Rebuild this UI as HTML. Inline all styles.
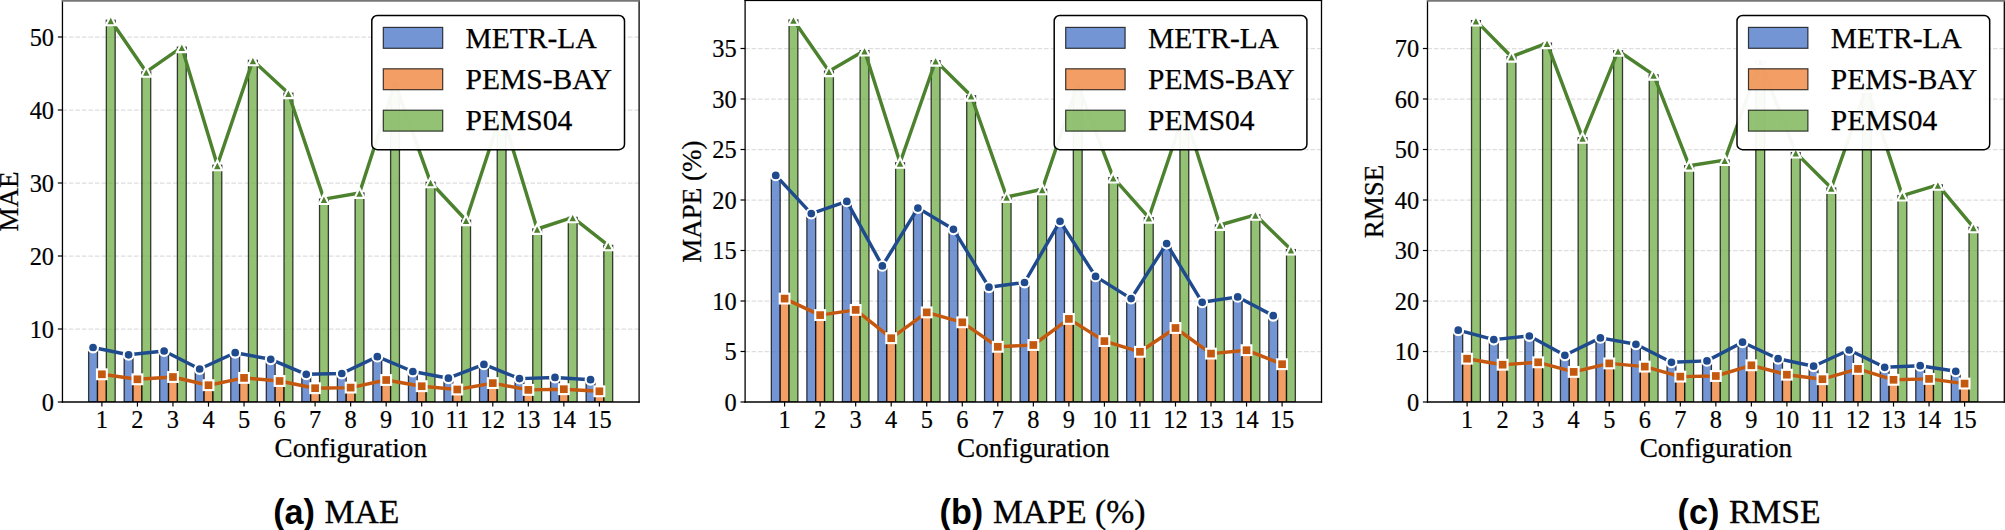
<!DOCTYPE html>
<html lang="en">
<head>
<meta charset="utf-8">
<title>MAE / MAPE / RMSE by configuration</title>
<style>
html,body{margin:0;padding:0;background:#fff;}
body{width:2005px;height:530px;overflow:hidden;}
svg{display:block;}
</style>
</head>
<body>
<svg width="2005" height="530" viewBox="0 0 2005 530">
<rect width="2005" height="530" fill="#fff"/>
<g>
<clipPath id="clip0"><rect x="62.45" y="0.4" width="576.65" height="401.6"/></clipPath>
<g stroke="#dedede" stroke-width="1.25" stroke-dasharray="4.55 1.95" fill="none">
<line x1="62.45" y1="329" x2="639.1" y2="329"/>
<line x1="62.45" y1="256" x2="639.1" y2="256"/>
<line x1="62.45" y1="183" x2="639.1" y2="183"/>
<line x1="62.45" y1="110" x2="639.1" y2="110"/>
<line x1="62.45" y1="37" x2="639.1" y2="37"/>
</g>
<g stroke="#000" stroke-width="1.3" stroke-opacity="0.75" fill-opacity="0.75" clip-path="url(#clip0)">
<rect x="88.63" y="347.5" width="8.85" height="54.5" fill="#4472c4"/>
<rect x="124.16" y="354.8" width="8.85" height="47.2" fill="#4472c4"/>
<rect x="159.69" y="351" width="8.85" height="51" fill="#4472c4"/>
<rect x="195.23" y="369" width="8.85" height="33" fill="#4472c4"/>
<rect x="230.76" y="352.7" width="8.85" height="49.3" fill="#4472c4"/>
<rect x="266.3" y="359.3" width="8.85" height="42.7" fill="#4472c4"/>
<rect x="301.83" y="374.3" width="8.85" height="27.7" fill="#4472c4"/>
<rect x="337.37" y="373.5" width="8.85" height="28.5" fill="#4472c4"/>
<rect x="372.9" y="356.65" width="8.85" height="45.35" fill="#4472c4"/>
<rect x="408.44" y="371.5" width="8.85" height="30.5" fill="#4472c4"/>
<rect x="443.97" y="378.2" width="8.85" height="23.8" fill="#4472c4"/>
<rect x="479.51" y="364.4" width="8.85" height="37.6" fill="#4472c4"/>
<rect x="515.04" y="378.6" width="8.85" height="23.4" fill="#4472c4"/>
<rect x="550.58" y="377.45" width="8.85" height="24.55" fill="#4472c4"/>
<rect x="586.12" y="379.7" width="8.85" height="22.3" fill="#4472c4"/>
<rect x="97.48" y="374.3" width="8.85" height="27.7" fill="#ed7d31"/>
<rect x="133.01" y="379.3" width="8.85" height="22.7" fill="#ed7d31"/>
<rect x="168.54" y="377" width="8.85" height="25" fill="#ed7d31"/>
<rect x="204.08" y="385.2" width="8.85" height="16.8" fill="#ed7d31"/>
<rect x="239.61" y="377.9" width="8.85" height="24.1" fill="#ed7d31"/>
<rect x="275.15" y="381" width="8.85" height="21" fill="#ed7d31"/>
<rect x="310.69" y="388.2" width="8.85" height="13.8" fill="#ed7d31"/>
<rect x="346.22" y="387.6" width="8.85" height="14.4" fill="#ed7d31"/>
<rect x="381.75" y="380" width="8.85" height="22" fill="#ed7d31"/>
<rect x="417.29" y="386.2" width="8.85" height="15.8" fill="#ed7d31"/>
<rect x="452.82" y="389.5" width="8.85" height="12.5" fill="#ed7d31"/>
<rect x="488.36" y="383.1" width="8.85" height="18.9" fill="#ed7d31"/>
<rect x="523.89" y="389.9" width="8.85" height="12.1" fill="#ed7d31"/>
<rect x="559.43" y="389.2" width="8.85" height="12.8" fill="#ed7d31"/>
<rect x="594.97" y="391.3" width="8.85" height="10.7" fill="#ed7d31"/>
<rect x="106.33" y="20.3" width="8.85" height="381.7" fill="#70ad47"/>
<rect x="141.86" y="71.9" width="8.85" height="330.1" fill="#70ad47"/>
<rect x="177.39" y="47.2" width="8.85" height="354.8" fill="#70ad47"/>
<rect x="212.93" y="165.3" width="8.85" height="236.7" fill="#70ad47"/>
<rect x="248.46" y="60.4" width="8.85" height="341.6" fill="#70ad47"/>
<rect x="284" y="93.2" width="8.85" height="308.8" fill="#70ad47"/>
<rect x="319.54" y="199.1" width="8.85" height="202.9" fill="#70ad47"/>
<rect x="355.07" y="193" width="8.85" height="209" fill="#70ad47"/>
<rect x="390.6" y="83.3" width="8.85" height="318.7" fill="#70ad47"/>
<rect x="426.14" y="182.3" width="8.85" height="219.7" fill="#70ad47"/>
<rect x="461.68" y="220.2" width="8.85" height="181.8" fill="#70ad47"/>
<rect x="497.21" y="112" width="8.85" height="290" fill="#70ad47"/>
<rect x="532.75" y="229" width="8.85" height="173" fill="#70ad47"/>
<rect x="568.28" y="217.4" width="8.85" height="184.6" fill="#70ad47"/>
<rect x="603.82" y="245.4" width="8.85" height="156.6" fill="#70ad47"/>
</g>
<polyline fill="none" stroke="#1f4b8e" stroke-width="3.45" stroke-linejoin="round" stroke-linecap="butt" points="93.05,347.5 128.59,354.8 164.12,351 199.66,369 235.19,352.7 270.72,359.3 306.26,374.3 341.79,373.5 377.33,356.65 412.86,371.5 448.4,378.2 483.93,364.4 519.47,378.6 555,377.45 590.54,379.7"/>
<g fill="#1f4b8e" stroke="#fff" stroke-width="2.1">
<circle cx="93.05" cy="347.5" r="4.9"/>
<circle cx="128.59" cy="354.8" r="4.9"/>
<circle cx="164.12" cy="351" r="4.9"/>
<circle cx="199.66" cy="369" r="4.9"/>
<circle cx="235.19" cy="352.7" r="4.9"/>
<circle cx="270.72" cy="359.3" r="4.9"/>
<circle cx="306.26" cy="374.3" r="4.9"/>
<circle cx="341.79" cy="373.5" r="4.9"/>
<circle cx="377.33" cy="356.65" r="4.9"/>
<circle cx="412.86" cy="371.5" r="4.9"/>
<circle cx="448.4" cy="378.2" r="4.9"/>
<circle cx="483.93" cy="364.4" r="4.9"/>
<circle cx="519.47" cy="378.6" r="4.9"/>
<circle cx="555" cy="377.45" r="4.9"/>
<circle cx="590.54" cy="379.7" r="4.9"/>
</g>
<polyline fill="none" stroke="#c5580f" stroke-width="3.45" stroke-linejoin="round" stroke-linecap="butt" points="101.9,374.3 137.44,379.3 172.97,377 208.5,385.2 244.04,377.9 279.57,381 315.11,388.2 350.64,387.6 386.18,380 421.71,386.2 457.25,389.5 492.78,383.1 528.32,389.9 563.85,389.2 599.39,391.3"/>
<g fill="#c5580f" stroke="#fff" stroke-width="2.1">
<rect x="97" y="369.4" width="9.8" height="9.8"/>
<rect x="132.53" y="374.4" width="9.8" height="9.8"/>
<rect x="168.07" y="372.1" width="9.8" height="9.8"/>
<rect x="203.6" y="380.3" width="9.8" height="9.8"/>
<rect x="239.14" y="373" width="9.8" height="9.8"/>
<rect x="274.68" y="376.1" width="9.8" height="9.8"/>
<rect x="310.21" y="383.3" width="9.8" height="9.8"/>
<rect x="345.75" y="382.7" width="9.8" height="9.8"/>
<rect x="381.28" y="375.1" width="9.8" height="9.8"/>
<rect x="416.81" y="381.3" width="9.8" height="9.8"/>
<rect x="452.35" y="384.6" width="9.8" height="9.8"/>
<rect x="487.88" y="378.2" width="9.8" height="9.8"/>
<rect x="523.42" y="385" width="9.8" height="9.8"/>
<rect x="558.95" y="384.3" width="9.8" height="9.8"/>
<rect x="594.49" y="386.4" width="9.8" height="9.8"/>
</g>
<polyline fill="none" stroke="#4c822e" stroke-width="3.45" stroke-linejoin="round" stroke-linecap="butt" points="110.75,20.3 146.28,71.9 181.82,47.2 217.35,165.3 252.89,60.4 288.43,93.2 323.96,199.1 359.5,193 395.03,83.3 430.56,182.3 466.1,220.2 501.63,112 537.17,229 572.7,217.4 608.24,245.4"/>
<g fill="#4c822e" stroke="#fff" stroke-width="2.1">
<path d="M110.75 15.4L105.85 25.2L115.65 25.2Z"/>
<path d="M146.28 67L141.38 76.8L151.19 76.8Z"/>
<path d="M181.82 42.3L176.92 52.1L186.72 52.1Z"/>
<path d="M217.35 160.4L212.45 170.2L222.25 170.2Z"/>
<path d="M252.89 55.5L247.99 65.3L257.79 65.3Z"/>
<path d="M288.43 88.3L283.53 98.1L293.32 98.1Z"/>
<path d="M323.96 194.2L319.06 204L328.86 204Z"/>
<path d="M359.5 188.1L354.6 197.9L364.39 197.9Z"/>
<path d="M395.03 78.4L390.13 88.2L399.93 88.2Z"/>
<path d="M430.56 177.4L425.66 187.2L435.46 187.2Z"/>
<path d="M466.1 215.3L461.2 225.1L471 225.1Z"/>
<path d="M501.63 107.1L496.74 116.9L506.53 116.9Z"/>
<path d="M537.17 224.1L532.27 233.9L542.07 233.9Z"/>
<path d="M572.7 212.5L567.8 222.3L577.6 222.3Z"/>
<path d="M608.24 240.5L603.34 250.3L613.14 250.3Z"/>
</g>
<g stroke="#000" stroke-width="1.3" fill="none" stroke-linecap="square">
<line x1="62.45" y1="402" x2="639.1" y2="402"/>
<line x1="62.45" y1="0.4" x2="62.45" y2="402"/>
<line x1="639.1" y1="0.4" x2="639.1" y2="402"/>
</g>
<rect x="61.85" y="0" width="577.85" height="1.75" fill="#777"/>
<g stroke="#000" stroke-width="1.2" fill="none">
<line x1="101.9" y1="402" x2="101.9" y2="406.6"/>
<line x1="137.44" y1="402" x2="137.44" y2="406.6"/>
<line x1="172.97" y1="402" x2="172.97" y2="406.6"/>
<line x1="208.5" y1="402" x2="208.5" y2="406.6"/>
<line x1="244.04" y1="402" x2="244.04" y2="406.6"/>
<line x1="279.57" y1="402" x2="279.57" y2="406.6"/>
<line x1="315.11" y1="402" x2="315.11" y2="406.6"/>
<line x1="350.64" y1="402" x2="350.64" y2="406.6"/>
<line x1="386.18" y1="402" x2="386.18" y2="406.6"/>
<line x1="421.71" y1="402" x2="421.71" y2="406.6"/>
<line x1="457.25" y1="402" x2="457.25" y2="406.6"/>
<line x1="492.78" y1="402" x2="492.78" y2="406.6"/>
<line x1="528.32" y1="402" x2="528.32" y2="406.6"/>
<line x1="563.85" y1="402" x2="563.85" y2="406.6"/>
<line x1="599.39" y1="402" x2="599.39" y2="406.6"/>
<line x1="57.85" y1="402" x2="62.45" y2="402"/>
<line x1="57.85" y1="329" x2="62.45" y2="329"/>
<line x1="57.85" y1="256" x2="62.45" y2="256"/>
<line x1="57.85" y1="183" x2="62.45" y2="183"/>
<line x1="57.85" y1="110" x2="62.45" y2="110"/>
<line x1="57.85" y1="37" x2="62.45" y2="37"/>
</g>
<g font-family='"Liberation Serif", "Times New Roman", serif' font-size="24.4" fill="#000" stroke="#000" stroke-width="0.2">
<g text-anchor="middle">
<text x="101.9" y="427.6">1</text>
<text x="137.44" y="427.6">2</text>
<text x="172.97" y="427.6">3</text>
<text x="208.5" y="427.6">4</text>
<text x="244.04" y="427.6">5</text>
<text x="279.57" y="427.6">6</text>
<text x="315.11" y="427.6">7</text>
<text x="350.64" y="427.6">8</text>
<text x="386.18" y="427.6">9</text>
<text x="421.71" y="427.6">10</text>
<text x="457.25" y="427.6">11</text>
<text x="492.78" y="427.6">12</text>
<text x="528.32" y="427.6">13</text>
<text x="563.85" y="427.6">14</text>
<text x="599.39" y="427.6">15</text>
</g>
<g text-anchor="end">
<text x="54.05" y="410.9">0</text>
<text x="54.05" y="337.9">10</text>
<text x="54.05" y="264.9">20</text>
<text x="54.05" y="191.9">30</text>
<text x="54.05" y="118.9">40</text>
<text x="54.05" y="45.9">50</text>
</g>
</g>
<text x="350.78" y="456.8" text-anchor="middle" font-family='"Liberation Serif", "Times New Roman", serif' font-size="27.2" fill="#000" stroke="#000" stroke-width="0.25">Configuration</text>
<text transform="translate(17.95 201.6) rotate(-90)" text-anchor="middle" font-family='"Liberation Serif", "Times New Roman", serif' font-size="27.0" fill="#000" stroke="#000" stroke-width="0.25">MAE</text>
<rect x="371.8" y="15.5" width="252.7" height="134.2" rx="5.5" ry="5.5" fill="#fff" fill-opacity="0.95" stroke="#000" stroke-width="1.5"/>
<rect x="383.3" y="27.4" width="59.4" height="20.9" fill="#4472c4" fill-opacity="0.75" stroke="#000" stroke-opacity="0.75" stroke-width="1.2"/>
<text x="465.6" y="47.5" font-family='"Liberation Serif", "Times New Roman", serif' font-size="29.5" fill="#000" stroke="#000" stroke-width="0.25">METR-LA</text>
<rect x="383.3" y="68.8" width="59.4" height="20.9" fill="#ed7d31" fill-opacity="0.75" stroke="#000" stroke-opacity="0.75" stroke-width="1.2"/>
<text x="465.6" y="88.9" font-family='"Liberation Serif", "Times New Roman", serif' font-size="29.5" fill="#000" stroke="#000" stroke-width="0.25">PEMS-BAY</text>
<rect x="383.3" y="110.2" width="59.4" height="20.9" fill="#70ad47" fill-opacity="0.75" stroke="#000" stroke-opacity="0.75" stroke-width="1.2"/>
<text x="465.6" y="130.3" font-family='"Liberation Serif", "Times New Roman", serif' font-size="29.5" fill="#000" stroke="#000" stroke-width="0.25">PEMS04</text>
<text x="273.2" y="524.1" font-family='"Liberation Sans", Arial, sans-serif' font-weight="bold" font-size="34.2" fill="#000">(a)</text>
<text x="324.5" y="523.2" font-family='"Liberation Serif", "Times New Roman", serif' font-size="33.7" fill="#000" stroke="#000" stroke-width="0.35">MAE</text>
</g>
<g>
<clipPath id="clip1"><rect x="745.1" y="0.4" width="576.4" height="401.6"/></clipPath>
<g stroke="#dedede" stroke-width="1.25" stroke-dasharray="4.55 1.95" fill="none">
<line x1="745.1" y1="351.5" x2="1321.5" y2="351.5"/>
<line x1="745.1" y1="301" x2="1321.5" y2="301"/>
<line x1="745.1" y1="250.5" x2="1321.5" y2="250.5"/>
<line x1="745.1" y1="200" x2="1321.5" y2="200"/>
<line x1="745.1" y1="149.5" x2="1321.5" y2="149.5"/>
<line x1="745.1" y1="99" x2="1321.5" y2="99"/>
<line x1="745.1" y1="48.5" x2="1321.5" y2="48.5"/>
</g>
<g stroke="#000" stroke-width="1.3" stroke-opacity="0.75" fill-opacity="0.75" clip-path="url(#clip1)">
<rect x="771.33" y="175.4" width="8.85" height="226.6" fill="#4472c4"/>
<rect x="806.86" y="213.6" width="8.85" height="188.4" fill="#4472c4"/>
<rect x="842.4" y="201.4" width="8.85" height="200.6" fill="#4472c4"/>
<rect x="877.93" y="265.9" width="8.85" height="136.1" fill="#4472c4"/>
<rect x="913.47" y="208.1" width="8.85" height="193.9" fill="#4472c4"/>
<rect x="949" y="229.3" width="8.85" height="172.7" fill="#4472c4"/>
<rect x="984.53" y="287.2" width="8.85" height="114.8" fill="#4472c4"/>
<rect x="1020.07" y="282.5" width="8.85" height="119.5" fill="#4472c4"/>
<rect x="1055.61" y="221.3" width="8.85" height="180.7" fill="#4472c4"/>
<rect x="1091.14" y="276.4" width="8.85" height="125.6" fill="#4472c4"/>
<rect x="1126.68" y="298.6" width="8.85" height="103.4" fill="#4472c4"/>
<rect x="1162.21" y="243.6" width="8.85" height="158.4" fill="#4472c4"/>
<rect x="1197.75" y="302.3" width="8.85" height="99.7" fill="#4472c4"/>
<rect x="1233.28" y="296.9" width="8.85" height="105.1" fill="#4472c4"/>
<rect x="1268.82" y="315.7" width="8.85" height="86.3" fill="#4472c4"/>
<rect x="780.18" y="298.6" width="8.85" height="103.4" fill="#ed7d31"/>
<rect x="815.71" y="315.1" width="8.85" height="86.9" fill="#ed7d31"/>
<rect x="851.25" y="309.9" width="8.85" height="92.1" fill="#ed7d31"/>
<rect x="886.78" y="338.2" width="8.85" height="63.8" fill="#ed7d31"/>
<rect x="922.32" y="312.4" width="8.85" height="89.6" fill="#ed7d31"/>
<rect x="957.85" y="322.3" width="8.85" height="79.7" fill="#ed7d31"/>
<rect x="993.38" y="346.8" width="8.85" height="55.2" fill="#ed7d31"/>
<rect x="1028.92" y="345" width="8.85" height="57" fill="#ed7d31"/>
<rect x="1064.46" y="318.9" width="8.85" height="83.1" fill="#ed7d31"/>
<rect x="1099.99" y="341.1" width="8.85" height="60.9" fill="#ed7d31"/>
<rect x="1135.53" y="351.8" width="8.85" height="50.2" fill="#ed7d31"/>
<rect x="1171.06" y="328" width="8.85" height="74" fill="#ed7d31"/>
<rect x="1206.6" y="353.6" width="8.85" height="48.4" fill="#ed7d31"/>
<rect x="1242.13" y="350.2" width="8.85" height="51.8" fill="#ed7d31"/>
<rect x="1277.66" y="364.2" width="8.85" height="37.8" fill="#ed7d31"/>
<rect x="789.03" y="20" width="8.85" height="382" fill="#70ad47"/>
<rect x="824.56" y="71.2" width="8.85" height="330.8" fill="#70ad47"/>
<rect x="860.1" y="50.6" width="8.85" height="351.4" fill="#70ad47"/>
<rect x="895.63" y="162.8" width="8.85" height="239.2" fill="#70ad47"/>
<rect x="931.17" y="60.7" width="8.85" height="341.3" fill="#70ad47"/>
<rect x="966.7" y="95.7" width="8.85" height="306.3" fill="#70ad47"/>
<rect x="1002.24" y="197" width="8.85" height="205" fill="#70ad47"/>
<rect x="1037.77" y="189.3" width="8.85" height="212.7" fill="#70ad47"/>
<rect x="1073.31" y="84.6" width="8.85" height="317.4" fill="#70ad47"/>
<rect x="1108.84" y="177.6" width="8.85" height="224.4" fill="#70ad47"/>
<rect x="1144.38" y="217.7" width="8.85" height="184.3" fill="#70ad47"/>
<rect x="1179.91" y="112.2" width="8.85" height="289.8" fill="#70ad47"/>
<rect x="1215.44" y="225" width="8.85" height="177" fill="#70ad47"/>
<rect x="1250.98" y="214.8" width="8.85" height="187.2" fill="#70ad47"/>
<rect x="1286.51" y="249.6" width="8.85" height="152.4" fill="#70ad47"/>
</g>
<polyline fill="none" stroke="#1f4b8e" stroke-width="3.45" stroke-linejoin="round" stroke-linecap="butt" points="775.75,175.4 811.28,213.6 846.82,201.4 882.36,265.9 917.89,208.1 953.42,229.3 988.96,287.2 1024.5,282.5 1060.03,221.3 1095.57,276.4 1131.1,298.6 1166.64,243.6 1202.17,302.3 1237.7,296.9 1273.24,315.7"/>
<g fill="#1f4b8e" stroke="#fff" stroke-width="2.1">
<circle cx="775.75" cy="175.4" r="4.9"/>
<circle cx="811.28" cy="213.6" r="4.9"/>
<circle cx="846.82" cy="201.4" r="4.9"/>
<circle cx="882.36" cy="265.9" r="4.9"/>
<circle cx="917.89" cy="208.1" r="4.9"/>
<circle cx="953.42" cy="229.3" r="4.9"/>
<circle cx="988.96" cy="287.2" r="4.9"/>
<circle cx="1024.5" cy="282.5" r="4.9"/>
<circle cx="1060.03" cy="221.3" r="4.9"/>
<circle cx="1095.57" cy="276.4" r="4.9"/>
<circle cx="1131.1" cy="298.6" r="4.9"/>
<circle cx="1166.64" cy="243.6" r="4.9"/>
<circle cx="1202.17" cy="302.3" r="4.9"/>
<circle cx="1237.7" cy="296.9" r="4.9"/>
<circle cx="1273.24" cy="315.7" r="4.9"/>
</g>
<polyline fill="none" stroke="#c5580f" stroke-width="3.45" stroke-linejoin="round" stroke-linecap="butt" points="784.6,298.6 820.13,315.1 855.67,309.9 891.21,338.2 926.74,312.4 962.27,322.3 997.81,346.8 1033.35,345 1068.88,318.9 1104.41,341.1 1139.95,351.8 1175.49,328 1211.02,353.6 1246.55,350.2 1282.09,364.2"/>
<g fill="#c5580f" stroke="#fff" stroke-width="2.1">
<rect x="779.7" y="293.7" width="9.8" height="9.8"/>
<rect x="815.24" y="310.2" width="9.8" height="9.8"/>
<rect x="850.77" y="305" width="9.8" height="9.8"/>
<rect x="886.31" y="333.3" width="9.8" height="9.8"/>
<rect x="921.84" y="307.5" width="9.8" height="9.8"/>
<rect x="957.38" y="317.4" width="9.8" height="9.8"/>
<rect x="992.91" y="341.9" width="9.8" height="9.8"/>
<rect x="1028.44" y="340.1" width="9.8" height="9.8"/>
<rect x="1063.98" y="314" width="9.8" height="9.8"/>
<rect x="1099.51" y="336.2" width="9.8" height="9.8"/>
<rect x="1135.05" y="346.9" width="9.8" height="9.8"/>
<rect x="1170.59" y="323.1" width="9.8" height="9.8"/>
<rect x="1206.12" y="348.7" width="9.8" height="9.8"/>
<rect x="1241.65" y="345.3" width="9.8" height="9.8"/>
<rect x="1277.19" y="359.3" width="9.8" height="9.8"/>
</g>
<polyline fill="none" stroke="#4c822e" stroke-width="3.45" stroke-linejoin="round" stroke-linecap="butt" points="793.45,20 828.99,71.2 864.52,50.6 900.06,162.8 935.59,60.7 971.12,95.7 1006.66,197 1042.19,189.3 1077.73,84.6 1113.26,177.6 1148.8,217.7 1184.34,112.2 1219.87,225 1255.4,214.8 1290.94,249.6"/>
<g fill="#4c822e" stroke="#fff" stroke-width="2.1">
<path d="M793.45 15.1L788.55 24.9L798.35 24.9Z"/>
<path d="M828.99 66.3L824.09 76.1L833.88 76.1Z"/>
<path d="M864.52 45.7L859.62 55.5L869.42 55.5Z"/>
<path d="M900.06 157.9L895.16 167.7L904.96 167.7Z"/>
<path d="M935.59 55.8L930.69 65.6L940.49 65.6Z"/>
<path d="M971.12 90.8L966.23 100.6L976.02 100.6Z"/>
<path d="M1006.66 192.1L1001.76 201.9L1011.56 201.9Z"/>
<path d="M1042.19 184.4L1037.29 194.2L1047.1 194.2Z"/>
<path d="M1077.73 79.7L1072.83 89.5L1082.63 89.5Z"/>
<path d="M1113.26 172.7L1108.36 182.5L1118.16 182.5Z"/>
<path d="M1148.8 212.8L1143.9 222.6L1153.7 222.6Z"/>
<path d="M1184.34 107.3L1179.43 117.1L1189.24 117.1Z"/>
<path d="M1219.87 220.1L1214.97 229.9L1224.77 229.9Z"/>
<path d="M1255.4 209.9L1250.5 219.7L1260.3 219.7Z"/>
<path d="M1290.94 244.7L1286.04 254.5L1295.84 254.5Z"/>
</g>
<g stroke="#000" stroke-width="1.3" fill="none" stroke-linecap="square">
<line x1="745.1" y1="402" x2="1321.5" y2="402"/>
<line x1="745.1" y1="0.4" x2="745.1" y2="402"/>
<line x1="1321.5" y1="0.4" x2="1321.5" y2="402"/>
</g>
<rect x="744.5" y="0" width="577.6" height="1.1" fill="#000"/>
<g stroke="#000" stroke-width="1.2" fill="none">
<line x1="784.6" y1="402" x2="784.6" y2="406.6"/>
<line x1="820.13" y1="402" x2="820.13" y2="406.6"/>
<line x1="855.67" y1="402" x2="855.67" y2="406.6"/>
<line x1="891.21" y1="402" x2="891.21" y2="406.6"/>
<line x1="926.74" y1="402" x2="926.74" y2="406.6"/>
<line x1="962.27" y1="402" x2="962.27" y2="406.6"/>
<line x1="997.81" y1="402" x2="997.81" y2="406.6"/>
<line x1="1033.35" y1="402" x2="1033.35" y2="406.6"/>
<line x1="1068.88" y1="402" x2="1068.88" y2="406.6"/>
<line x1="1104.41" y1="402" x2="1104.41" y2="406.6"/>
<line x1="1139.95" y1="402" x2="1139.95" y2="406.6"/>
<line x1="1175.49" y1="402" x2="1175.49" y2="406.6"/>
<line x1="1211.02" y1="402" x2="1211.02" y2="406.6"/>
<line x1="1246.55" y1="402" x2="1246.55" y2="406.6"/>
<line x1="1282.09" y1="402" x2="1282.09" y2="406.6"/>
<line x1="740.5" y1="402" x2="745.1" y2="402"/>
<line x1="740.5" y1="351.5" x2="745.1" y2="351.5"/>
<line x1="740.5" y1="301" x2="745.1" y2="301"/>
<line x1="740.5" y1="250.5" x2="745.1" y2="250.5"/>
<line x1="740.5" y1="200" x2="745.1" y2="200"/>
<line x1="740.5" y1="149.5" x2="745.1" y2="149.5"/>
<line x1="740.5" y1="99" x2="745.1" y2="99"/>
<line x1="740.5" y1="48.5" x2="745.1" y2="48.5"/>
</g>
<g font-family='"Liberation Serif", "Times New Roman", serif' font-size="24.4" fill="#000" stroke="#000" stroke-width="0.2">
<g text-anchor="middle">
<text x="784.6" y="427.6">1</text>
<text x="820.13" y="427.6">2</text>
<text x="855.67" y="427.6">3</text>
<text x="891.21" y="427.6">4</text>
<text x="926.74" y="427.6">5</text>
<text x="962.27" y="427.6">6</text>
<text x="997.81" y="427.6">7</text>
<text x="1033.35" y="427.6">8</text>
<text x="1068.88" y="427.6">9</text>
<text x="1104.41" y="427.6">10</text>
<text x="1139.95" y="427.6">11</text>
<text x="1175.49" y="427.6">12</text>
<text x="1211.02" y="427.6">13</text>
<text x="1246.55" y="427.6">14</text>
<text x="1282.09" y="427.6">15</text>
</g>
<g text-anchor="end">
<text x="736.7" y="410.9">0</text>
<text x="736.7" y="360.4">5</text>
<text x="736.7" y="309.9">10</text>
<text x="736.7" y="259.4">15</text>
<text x="736.7" y="208.9">20</text>
<text x="736.7" y="158.4">25</text>
<text x="736.7" y="107.9">30</text>
<text x="736.7" y="57.4">35</text>
</g>
</g>
<text x="1033.3" y="456.8" text-anchor="middle" font-family='"Liberation Serif", "Times New Roman", serif' font-size="27.2" fill="#000" stroke="#000" stroke-width="0.25">Configuration</text>
<text transform="translate(700.6 201.6) rotate(-90)" text-anchor="middle" font-family='"Liberation Serif", "Times New Roman", serif' font-size="27.0" fill="#000" stroke="#000" stroke-width="0.25">MAPE (%)</text>
<rect x="1054.2" y="15.5" width="252.7" height="134.2" rx="5.5" ry="5.5" fill="#fff" fill-opacity="0.95" stroke="#000" stroke-width="1.5"/>
<rect x="1065.7" y="27.4" width="59.4" height="20.9" fill="#4472c4" fill-opacity="0.75" stroke="#000" stroke-opacity="0.75" stroke-width="1.2"/>
<text x="1148" y="47.5" font-family='"Liberation Serif", "Times New Roman", serif' font-size="29.5" fill="#000" stroke="#000" stroke-width="0.25">METR-LA</text>
<rect x="1065.7" y="68.8" width="59.4" height="20.9" fill="#ed7d31" fill-opacity="0.75" stroke="#000" stroke-opacity="0.75" stroke-width="1.2"/>
<text x="1148" y="88.9" font-family='"Liberation Serif", "Times New Roman", serif' font-size="29.5" fill="#000" stroke="#000" stroke-width="0.25">PEMS-BAY</text>
<rect x="1065.7" y="110.2" width="59.4" height="20.9" fill="#70ad47" fill-opacity="0.75" stroke="#000" stroke-opacity="0.75" stroke-width="1.2"/>
<text x="1148" y="130.3" font-family='"Liberation Serif", "Times New Roman", serif' font-size="29.5" fill="#000" stroke="#000" stroke-width="0.25">PEMS04</text>
<text x="939.6" y="524.1" font-family='"Liberation Sans", Arial, sans-serif' font-weight="bold" font-size="34.2" fill="#000">(b)</text>
<text x="992.9" y="523.2" font-family='"Liberation Serif", "Times New Roman", serif' font-size="33.7" fill="#000" stroke="#000" stroke-width="0.35">MAPE (%)</text>
</g>
<g>
<clipPath id="clip2"><rect x="1427.5" y="0.4" width="576.8" height="401.6"/></clipPath>
<g stroke="#dedede" stroke-width="1.25" stroke-dasharray="4.55 1.95" fill="none">
<line x1="1427.5" y1="351.5" x2="2004.3" y2="351.5"/>
<line x1="1427.5" y1="301" x2="2004.3" y2="301"/>
<line x1="1427.5" y1="250.5" x2="2004.3" y2="250.5"/>
<line x1="1427.5" y1="200" x2="2004.3" y2="200"/>
<line x1="1427.5" y1="149.5" x2="2004.3" y2="149.5"/>
<line x1="1427.5" y1="99" x2="2004.3" y2="99"/>
<line x1="1427.5" y1="48.5" x2="2004.3" y2="48.5"/>
</g>
<g stroke="#000" stroke-width="1.3" stroke-opacity="0.75" fill-opacity="0.75" clip-path="url(#clip2)">
<rect x="1453.83" y="330.2" width="8.85" height="71.8" fill="#4472c4"/>
<rect x="1489.36" y="339.6" width="8.85" height="62.4" fill="#4472c4"/>
<rect x="1524.89" y="336" width="8.85" height="66" fill="#4472c4"/>
<rect x="1560.43" y="355.3" width="8.85" height="46.7" fill="#4472c4"/>
<rect x="1595.96" y="337.9" width="8.85" height="64.1" fill="#4472c4"/>
<rect x="1631.5" y="344.3" width="8.85" height="57.7" fill="#4472c4"/>
<rect x="1667.04" y="362.3" width="8.85" height="39.7" fill="#4472c4"/>
<rect x="1702.57" y="360.9" width="8.85" height="41.1" fill="#4472c4"/>
<rect x="1738.11" y="342.2" width="8.85" height="59.8" fill="#4472c4"/>
<rect x="1773.64" y="358.7" width="8.85" height="43.3" fill="#4472c4"/>
<rect x="1809.17" y="366.2" width="8.85" height="35.8" fill="#4472c4"/>
<rect x="1844.71" y="350" width="8.85" height="52" fill="#4472c4"/>
<rect x="1880.25" y="367.3" width="8.85" height="34.7" fill="#4472c4"/>
<rect x="1915.78" y="365.7" width="8.85" height="36.3" fill="#4472c4"/>
<rect x="1951.32" y="371.3" width="8.85" height="30.7" fill="#4472c4"/>
<rect x="1462.67" y="358.7" width="8.85" height="43.3" fill="#ed7d31"/>
<rect x="1498.21" y="364.7" width="8.85" height="37.3" fill="#ed7d31"/>
<rect x="1533.74" y="362.3" width="8.85" height="39.7" fill="#ed7d31"/>
<rect x="1569.28" y="371.9" width="8.85" height="30.1" fill="#ed7d31"/>
<rect x="1604.81" y="363.4" width="8.85" height="38.6" fill="#ed7d31"/>
<rect x="1640.35" y="366.6" width="8.85" height="35.4" fill="#ed7d31"/>
<rect x="1675.88" y="376.6" width="8.85" height="25.4" fill="#ed7d31"/>
<rect x="1711.42" y="376" width="8.85" height="26" fill="#ed7d31"/>
<rect x="1746.95" y="365.3" width="8.85" height="36.7" fill="#ed7d31"/>
<rect x="1782.49" y="374.7" width="8.85" height="27.3" fill="#ed7d31"/>
<rect x="1818.02" y="379.2" width="8.85" height="22.8" fill="#ed7d31"/>
<rect x="1853.56" y="368.9" width="8.85" height="33.1" fill="#ed7d31"/>
<rect x="1889.1" y="379.8" width="8.85" height="22.2" fill="#ed7d31"/>
<rect x="1924.63" y="378.9" width="8.85" height="23.1" fill="#ed7d31"/>
<rect x="1960.16" y="383.6" width="8.85" height="18.4" fill="#ed7d31"/>
<rect x="1471.52" y="20.6" width="8.85" height="381.4" fill="#70ad47"/>
<rect x="1507.06" y="56.7" width="8.85" height="345.3" fill="#70ad47"/>
<rect x="1542.59" y="43.2" width="8.85" height="358.8" fill="#70ad47"/>
<rect x="1578.13" y="137.8" width="8.85" height="264.2" fill="#70ad47"/>
<rect x="1613.66" y="50.8" width="8.85" height="351.2" fill="#70ad47"/>
<rect x="1649.2" y="74.9" width="8.85" height="327.1" fill="#70ad47"/>
<rect x="1684.73" y="165.7" width="8.85" height="236.3" fill="#70ad47"/>
<rect x="1720.27" y="160.1" width="8.85" height="241.9" fill="#70ad47"/>
<rect x="1755.8" y="61.5" width="8.85" height="340.5" fill="#70ad47"/>
<rect x="1791.34" y="152.6" width="8.85" height="249.4" fill="#70ad47"/>
<rect x="1826.87" y="188" width="8.85" height="214" fill="#70ad47"/>
<rect x="1862.41" y="87" width="8.85" height="315" fill="#70ad47"/>
<rect x="1897.94" y="195.6" width="8.85" height="206.4" fill="#70ad47"/>
<rect x="1933.48" y="184.9" width="8.85" height="217.1" fill="#70ad47"/>
<rect x="1969.01" y="227.3" width="8.85" height="174.7" fill="#70ad47"/>
</g>
<polyline fill="none" stroke="#1f4b8e" stroke-width="3.45" stroke-linejoin="round" stroke-linecap="butt" points="1458.25,330.2 1493.79,339.6 1529.32,336 1564.86,355.3 1600.39,337.9 1635.92,344.3 1671.46,362.3 1706.99,360.9 1742.53,342.2 1778.07,358.7 1813.6,366.2 1849.13,350 1884.67,367.3 1920.2,365.7 1955.74,371.3"/>
<g fill="#1f4b8e" stroke="#fff" stroke-width="2.1">
<circle cx="1458.25" cy="330.2" r="4.9"/>
<circle cx="1493.79" cy="339.6" r="4.9"/>
<circle cx="1529.32" cy="336" r="4.9"/>
<circle cx="1564.86" cy="355.3" r="4.9"/>
<circle cx="1600.39" cy="337.9" r="4.9"/>
<circle cx="1635.92" cy="344.3" r="4.9"/>
<circle cx="1671.46" cy="362.3" r="4.9"/>
<circle cx="1706.99" cy="360.9" r="4.9"/>
<circle cx="1742.53" cy="342.2" r="4.9"/>
<circle cx="1778.07" cy="358.7" r="4.9"/>
<circle cx="1813.6" cy="366.2" r="4.9"/>
<circle cx="1849.13" cy="350" r="4.9"/>
<circle cx="1884.67" cy="367.3" r="4.9"/>
<circle cx="1920.2" cy="365.7" r="4.9"/>
<circle cx="1955.74" cy="371.3" r="4.9"/>
</g>
<polyline fill="none" stroke="#c5580f" stroke-width="3.45" stroke-linejoin="round" stroke-linecap="butt" points="1467.1,358.7 1502.63,364.7 1538.17,362.3 1573.7,371.9 1609.24,363.4 1644.77,366.6 1680.31,376.6 1715.84,376 1751.38,365.3 1786.91,374.7 1822.45,379.2 1857.98,368.9 1893.52,379.8 1929.05,378.9 1964.59,383.6"/>
<g fill="#c5580f" stroke="#fff" stroke-width="2.1">
<rect x="1462.2" y="353.8" width="9.8" height="9.8"/>
<rect x="1497.73" y="359.8" width="9.8" height="9.8"/>
<rect x="1533.27" y="357.4" width="9.8" height="9.8"/>
<rect x="1568.8" y="367" width="9.8" height="9.8"/>
<rect x="1604.34" y="358.5" width="9.8" height="9.8"/>
<rect x="1639.87" y="361.7" width="9.8" height="9.8"/>
<rect x="1675.41" y="371.7" width="9.8" height="9.8"/>
<rect x="1710.94" y="371.1" width="9.8" height="9.8"/>
<rect x="1746.48" y="360.4" width="9.8" height="9.8"/>
<rect x="1782.01" y="369.8" width="9.8" height="9.8"/>
<rect x="1817.55" y="374.3" width="9.8" height="9.8"/>
<rect x="1853.08" y="364" width="9.8" height="9.8"/>
<rect x="1888.62" y="374.9" width="9.8" height="9.8"/>
<rect x="1924.15" y="374" width="9.8" height="9.8"/>
<rect x="1959.69" y="378.7" width="9.8" height="9.8"/>
</g>
<polyline fill="none" stroke="#4c822e" stroke-width="3.45" stroke-linejoin="round" stroke-linecap="butt" points="1475.95,20.6 1511.48,56.7 1547.02,43.2 1582.55,137.8 1618.09,50.8 1653.62,74.9 1689.16,165.7 1724.69,160.1 1760.23,61.5 1795.76,152.6 1831.3,188 1866.83,87 1902.37,195.6 1937.9,184.9 1973.44,227.3"/>
<g fill="#4c822e" stroke="#fff" stroke-width="2.1">
<path d="M1475.95 15.7L1471.05 25.5L1480.85 25.5Z"/>
<path d="M1511.48 51.8L1506.58 61.6L1516.38 61.6Z"/>
<path d="M1547.02 38.3L1542.12 48.1L1551.92 48.1Z"/>
<path d="M1582.55 132.9L1577.65 142.7L1587.45 142.7Z"/>
<path d="M1618.09 45.9L1613.19 55.7L1622.99 55.7Z"/>
<path d="M1653.62 70L1648.72 79.8L1658.52 79.8Z"/>
<path d="M1689.16 160.8L1684.26 170.6L1694.06 170.6Z"/>
<path d="M1724.69 155.2L1719.79 165L1729.59 165Z"/>
<path d="M1760.23 56.6L1755.33 66.4L1765.13 66.4Z"/>
<path d="M1795.76 147.7L1790.86 157.5L1800.66 157.5Z"/>
<path d="M1831.3 183.1L1826.4 192.9L1836.2 192.9Z"/>
<path d="M1866.83 82.1L1861.93 91.9L1871.73 91.9Z"/>
<path d="M1902.37 190.7L1897.47 200.5L1907.27 200.5Z"/>
<path d="M1937.9 180L1933 189.8L1942.8 189.8Z"/>
<path d="M1973.44 222.4L1968.54 232.2L1978.34 232.2Z"/>
</g>
<g stroke="#000" stroke-width="1.3" fill="none" stroke-linecap="square">
<line x1="1427.5" y1="402" x2="2004.3" y2="402"/>
<line x1="1427.5" y1="0.4" x2="1427.5" y2="402"/>
<line x1="2004.3" y1="0.4" x2="2004.3" y2="402"/>
</g>
<rect x="1426.9" y="0" width="578" height="1.75" fill="#777"/>
<g stroke="#000" stroke-width="1.2" fill="none">
<line x1="1467.1" y1="402" x2="1467.1" y2="406.6"/>
<line x1="1502.63" y1="402" x2="1502.63" y2="406.6"/>
<line x1="1538.17" y1="402" x2="1538.17" y2="406.6"/>
<line x1="1573.7" y1="402" x2="1573.7" y2="406.6"/>
<line x1="1609.24" y1="402" x2="1609.24" y2="406.6"/>
<line x1="1644.77" y1="402" x2="1644.77" y2="406.6"/>
<line x1="1680.31" y1="402" x2="1680.31" y2="406.6"/>
<line x1="1715.84" y1="402" x2="1715.84" y2="406.6"/>
<line x1="1751.38" y1="402" x2="1751.38" y2="406.6"/>
<line x1="1786.91" y1="402" x2="1786.91" y2="406.6"/>
<line x1="1822.45" y1="402" x2="1822.45" y2="406.6"/>
<line x1="1857.98" y1="402" x2="1857.98" y2="406.6"/>
<line x1="1893.52" y1="402" x2="1893.52" y2="406.6"/>
<line x1="1929.05" y1="402" x2="1929.05" y2="406.6"/>
<line x1="1964.59" y1="402" x2="1964.59" y2="406.6"/>
<line x1="1422.9" y1="402" x2="1427.5" y2="402"/>
<line x1="1422.9" y1="351.5" x2="1427.5" y2="351.5"/>
<line x1="1422.9" y1="301" x2="1427.5" y2="301"/>
<line x1="1422.9" y1="250.5" x2="1427.5" y2="250.5"/>
<line x1="1422.9" y1="200" x2="1427.5" y2="200"/>
<line x1="1422.9" y1="149.5" x2="1427.5" y2="149.5"/>
<line x1="1422.9" y1="99" x2="1427.5" y2="99"/>
<line x1="1422.9" y1="48.5" x2="1427.5" y2="48.5"/>
</g>
<g font-family='"Liberation Serif", "Times New Roman", serif' font-size="24.4" fill="#000" stroke="#000" stroke-width="0.2">
<g text-anchor="middle">
<text x="1467.1" y="427.6">1</text>
<text x="1502.63" y="427.6">2</text>
<text x="1538.17" y="427.6">3</text>
<text x="1573.7" y="427.6">4</text>
<text x="1609.24" y="427.6">5</text>
<text x="1644.77" y="427.6">6</text>
<text x="1680.31" y="427.6">7</text>
<text x="1715.84" y="427.6">8</text>
<text x="1751.38" y="427.6">9</text>
<text x="1786.91" y="427.6">10</text>
<text x="1822.45" y="427.6">11</text>
<text x="1857.98" y="427.6">12</text>
<text x="1893.52" y="427.6">13</text>
<text x="1929.05" y="427.6">14</text>
<text x="1964.59" y="427.6">15</text>
</g>
<g text-anchor="end">
<text x="1419.1" y="410.9">0</text>
<text x="1419.1" y="360.4">10</text>
<text x="1419.1" y="309.9">20</text>
<text x="1419.1" y="259.4">30</text>
<text x="1419.1" y="208.9">40</text>
<text x="1419.1" y="158.4">50</text>
<text x="1419.1" y="107.9">60</text>
<text x="1419.1" y="57.4">70</text>
</g>
</g>
<text x="1715.9" y="456.8" text-anchor="middle" font-family='"Liberation Serif", "Times New Roman", serif' font-size="27.2" fill="#000" stroke="#000" stroke-width="0.25">Configuration</text>
<text transform="translate(1383 201.6) rotate(-90)" text-anchor="middle" font-family='"Liberation Serif", "Times New Roman", serif' font-size="27.0" fill="#000" stroke="#000" stroke-width="0.25">RMSE</text>
<rect x="1737" y="15.5" width="252.7" height="134.2" rx="5.5" ry="5.5" fill="#fff" fill-opacity="0.95" stroke="#000" stroke-width="1.5"/>
<rect x="1748.5" y="27.4" width="59.4" height="20.9" fill="#4472c4" fill-opacity="0.75" stroke="#000" stroke-opacity="0.75" stroke-width="1.2"/>
<text x="1830.8" y="47.5" font-family='"Liberation Serif", "Times New Roman", serif' font-size="29.5" fill="#000" stroke="#000" stroke-width="0.25">METR-LA</text>
<rect x="1748.5" y="68.8" width="59.4" height="20.9" fill="#ed7d31" fill-opacity="0.75" stroke="#000" stroke-opacity="0.75" stroke-width="1.2"/>
<text x="1830.8" y="88.9" font-family='"Liberation Serif", "Times New Roman", serif' font-size="29.5" fill="#000" stroke="#000" stroke-width="0.25">PEMS-BAY</text>
<rect x="1748.5" y="110.2" width="59.4" height="20.9" fill="#70ad47" fill-opacity="0.75" stroke="#000" stroke-opacity="0.75" stroke-width="1.2"/>
<text x="1830.8" y="130.3" font-family='"Liberation Serif", "Times New Roman", serif' font-size="29.5" fill="#000" stroke="#000" stroke-width="0.25">PEMS04</text>
<text x="1677.5" y="524.1" font-family='"Liberation Sans", Arial, sans-serif' font-weight="bold" font-size="34.2" fill="#000">(c)</text>
<text x="1728.9" y="523.2" font-family='"Liberation Serif", "Times New Roman", serif' font-size="33.7" fill="#000" stroke="#000" stroke-width="0.35">RMSE</text>
</g>
</svg>
</body>
</html>
